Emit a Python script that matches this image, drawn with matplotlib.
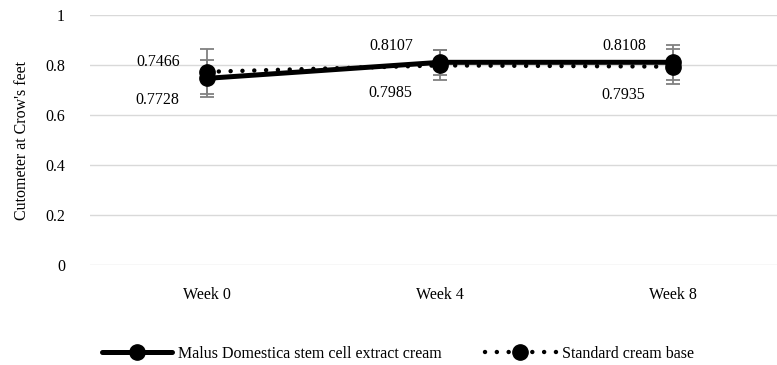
import matplotlib.pyplot as plt

weeks = ['Week 0', 'Week 4', 'Week 8']
malus = [0.7466, 0.8107, 0.8108]
standard = [0.7728, 0.7985, 0.7935]
malus_err = [0.075, 0.05, 0.07]
standard_err = [0.09, 0.06, 0.07]

plt.rcParams['font.family'] = 'serif'
plt.rcParams['font.serif'] = ['Liberation Serif', 'DejaVu Serif']
fs = 11.5

fig = plt.figure(figsize=(7.77, 3.65), dpi=100)
ax = fig.add_axes([90 / 777, 1 - 265 / 365, 687 / 777, 250 / 365])

x = list(range(len(weeks)))

# error bars in grey
ax.errorbar(x, malus, yerr=malus_err, fmt='none', ecolor='#808080',
            elinewidth=1.3, capsize=5, capthick=1.3, zorder=2)
ax.errorbar(x, standard, yerr=standard_err, fmt='none', ecolor='#808080',
            elinewidth=1.3, capsize=5, capthick=1.3, zorder=2)

l1, = ax.plot(x, malus, color='black', lw=3.6, marker='o', markersize=11,
              solid_capstyle='round', zorder=4,
              label='Malus Domestica stem cell extract cream')
l2, = ax.plot(x, standard, color='black', lw=3.2, marker='o', markersize=11,
              linestyle=(0, (0.01, 2.65)), dash_capstyle='round', zorder=3,
              label='Standard cream base')

# data labels
for i in x:
    ax.annotate('%.4f' % malus[i], (i, malus[i]), xytext=(-27, 16),
                textcoords='offset pixels', ha='right', va='center', fontsize=fs)
    ax.annotate('%.4f' % standard[i], (i, standard[i]), xytext=(-28, -28),
                textcoords='offset pixels', ha='right', va='center', fontsize=fs)

ax.set_xlim(-0.502, 2.446)
ax.set_ylim(0, 1)
ax.set_yticks([0, 0.2, 0.4, 0.6, 0.8, 1])
ax.set_yticklabels(['0', '0.2', '0.4', '0.6', '0.8', '1'])
ax.set_xticks(x)
ax.set_xticklabels(weeks)
ax.tick_params(axis='both', length=0, labelsize=fs)
ax.tick_params(axis='y', pad=18)
ax.tick_params(axis='x', pad=16)
ax.yaxis.grid(True, color='#d9d9d9', lw=1)
ax.set_axisbelow(True)
for s in ax.spines.values():
    s.set_visible(False)

ax.set_ylabel("Cutometer at Crow's feet", fontsize=fs)
ax.yaxis.set_label_coords(-0.087, 0.5)

fig.legend(handles=[l1, l2], loc='center', bbox_to_anchor=(0.512, 11 / 365),
           ncol=2, frameon=False, fontsize=fs, handlelength=4.4,
           columnspacing=2.7, handletextpad=0.4)

fig.savefig('out.png', dpi=100)
